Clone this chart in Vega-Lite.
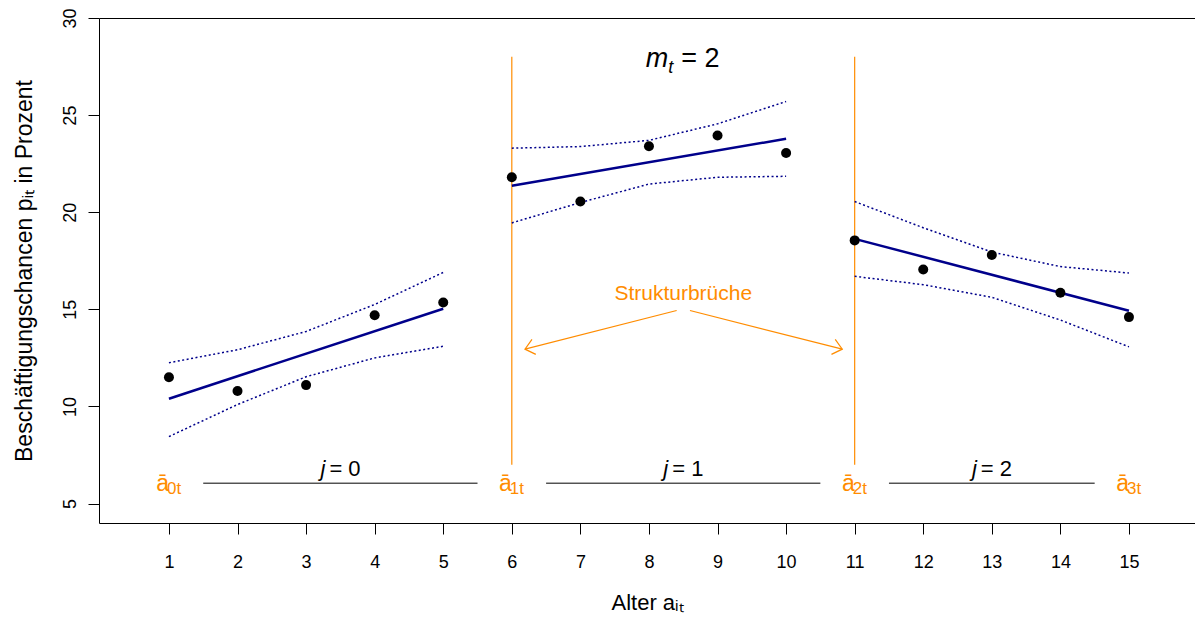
{
  "$schema": "https://vega.github.io/schema/vega-lite/v6.json",
  "width": 1096,
  "height": 505,
  "autosize": {"type": "none"},
  "padding": {"left": 99, "top": 18, "right": 0, "bottom": 94},
  "background": "white",
  "config": {"view": {"stroke": null}, "font": "Liberation Sans"},
  "resolve": {"axis": {"x": "independent", "y": "independent"}},
  "datasets": {
    "points": [
      {"x": 1, "y": 11.5, "g": "1"}, {"x": 2, "y": 10.8, "g": "1"}, {"x": 3, "y": 11.1, "g": "1"}, {"x": 4, "y": 14.7, "g": "1"}, {"x": 5, "y": 15.35, "g": "1"},
      {"x": 6, "y": 21.8, "g": "2"}, {"x": 7, "y": 20.55, "g": "2"}, {"x": 8, "y": 23.4, "g": "2"}, {"x": 9, "y": 23.95, "g": "2"}, {"x": 10, "y": 23.05, "g": "2"},
      {"x": 11, "y": 18.55, "g": "3"}, {"x": 12, "y": 17.05, "g": "3"}, {"x": 13, "y": 17.8, "g": "3"}, {"x": 14, "y": 15.85, "g": "3"}, {"x": 15, "y": 14.6, "g": "3"}
    ],
    "fit": [
      {"x": 1, "y": 10.4, "g": "1"}, {"x": 5, "y": 15.03, "g": "1"},
      {"x": 6, "y": 21.36, "g": "2"}, {"x": 10, "y": 23.78, "g": "2"},
      {"x": 11, "y": 18.63, "g": "3"}, {"x": 15, "y": 14.93, "g": "3"}
    ],
    "bands": [
      {"x": 1, "y": 12.25, "b": "u1"}, {"x": 2, "y": 12.92, "b": "u1"}, {"x": 3, "y": 13.86, "b": "u1"}, {"x": 4, "y": 15.25, "b": "u1"}, {"x": 5, "y": 16.9, "b": "u1"},
      {"x": 1, "y": 8.45, "b": "l1"}, {"x": 2, "y": 10.1, "b": "l1"}, {"x": 3, "y": 11.53, "b": "l1"}, {"x": 4, "y": 12.5, "b": "l1"}, {"x": 5, "y": 13.1, "b": "l1"},
      {"x": 6, "y": 23.3, "b": "u2"}, {"x": 7, "y": 23.38, "b": "u2"}, {"x": 8, "y": 23.7, "b": "u2"}, {"x": 9, "y": 24.55, "b": "u2"}, {"x": 10, "y": 25.7, "b": "u2"},
      {"x": 6, "y": 19.45, "b": "l2"}, {"x": 7, "y": 20.5, "b": "l2"}, {"x": 8, "y": 21.45, "b": "l2"}, {"x": 9, "y": 21.8, "b": "l2"}, {"x": 10, "y": 21.85, "b": "l2"},
      {"x": 11, "y": 20.55, "b": "u3"}, {"x": 12, "y": 19.2, "b": "u3"}, {"x": 13, "y": 17.95, "b": "u3"}, {"x": 14, "y": 17.2, "b": "u3"}, {"x": 15, "y": 16.87, "b": "u3"},
      {"x": 11, "y": 16.7, "b": "l3"}, {"x": 12, "y": 16.27, "b": "l3"}, {"x": 13, "y": 15.62, "b": "l3"}, {"x": 14, "y": 14.45, "b": "l3"}, {"x": 15, "y": 13.07, "b": "l3"}
    ],
    "breaks": [
      {"x": 6, "y": 7, "y2": 28},
      {"x": 11, "y": 7, "y2": 28}
    ],
    "segments": [
      {"x": 1.5, "x2": 5.5, "y": 6.05},
      {"x": 6.5, "x2": 10.5, "y": 6.05},
      {"x": 11.5, "x2": 14.5, "y": 6.05}
    ],
    "arrows": [
      {"arrow": "left", "x": 8.404, "y": 14.94, "x2": 6.192, "y2": 12.95},
      {"arrow": "right", "x": 8.598, "y": 14.94, "x2": 10.819, "y2": 12.95}
    ],
    "labels": [
      {"x": 8.5, "y": 15.46, "label": "Strukturbrüche", "role": "sb"},
      {"x": 8.5, "y": 27.48, "label": "m", "role": "m"},
      {"x": 8.5, "y": 27.48, "label": "t", "role": "msub"},
      {"x": 8.5, "y": 27.48, "label": "= 2", "role": "meq"},
      {"x": 3.5, "y": 6.43, "label": "j", "role": "j"},
      {"x": 8.5, "y": 6.43, "label": "j", "role": "j"},
      {"x": 13, "y": 6.43, "label": "j", "role": "j"},
      {"x": 3.5, "y": 6.43, "label": "= 0", "role": "jeq"},
      {"x": 8.5, "y": 6.43, "label": "= 1", "role": "jeq"},
      {"x": 13, "y": 6.43, "label": "= 2", "role": "jeq"},
      {"x": 1, "y": 5.67, "label": "ā", "role": "a"},
      {"x": 6, "y": 5.67, "label": "ā", "role": "a"},
      {"x": 11, "y": 5.67, "label": "ā", "role": "a"},
      {"x": 15, "y": 5.67, "label": "ā", "role": "a"},
      {"x": 1, "y": 5.67, "label": "0t", "role": "asub"},
      {"x": 6, "y": 5.67, "label": "1t", "role": "asub"},
      {"x": 11, "y": 5.67, "label": "2t", "role": "asub"},
      {"x": 15, "y": 5.67, "label": "3t", "role": "asub"}
    ]
  },
  "layer": [
    {
      "data": {"name": "breaks"},
      "mark": {"type": "rule", "color": "#FF8C00", "strokeWidth": 1.2},
      "encoding": {
        "x": {"field": "x", "type": "quantitative", "scale": {"domain": [-0.02, 15.963], "nice": false, "zero": false},
              "axis": {"orient": "top", "labels": false, "ticks": false, "grid": false, "domainColor": "black", "domainWidth": 1, "title": null}},
        "y": {"field": "y", "type": "quantitative", "scale": {"domain": [4, 30], "nice": false, "zero": false}, "axis": null},
        "y2": {"field": "y2"}
      }
    },
    {
      "data": {"name": "segments"},
      "mark": {"type": "rule", "color": "black", "strokeWidth": 1},
      "encoding": {
        "x": {"field": "x", "type": "quantitative", "scale": {"domain": [-0.02, 15.963], "nice": false, "zero": false}, "axis": null},
        "x2": {"field": "x2"},
        "y": {"field": "y", "type": "quantitative", "scale": {"domain": [4, 30], "nice": false, "zero": false}, "axis": null}
      }
    },
    {
      "data": {"name": "bands"},
      "mark": {"type": "line", "color": "#00008B", "strokeWidth": 1.5, "strokeDash": [2, 2.5]},
      "encoding": {
        "x": {"field": "x", "type": "quantitative", "scale": {"domain": [-0.02, 15.963], "nice": false, "zero": false}, "axis": null},
        "y": {"field": "y", "type": "quantitative", "scale": {"domain": [4, 30], "nice": false, "zero": false}, "axis": null},
        "detail": {"field": "b"}
      }
    },
    {
      "data": {"name": "fit"},
      "mark": {"type": "line", "color": "#00008B", "strokeWidth": 2.5},
      "encoding": {
        "x": {"field": "x", "type": "quantitative", "scale": {"domain": [-0.02, 15.963], "nice": false, "zero": false}, "axis": null},
        "y": {"field": "y", "type": "quantitative", "scale": {"domain": [4, 30], "nice": false, "zero": false}, "axis": null},
        "detail": {"field": "g"}
      }
    },
    {
      "data": {"name": "points"},
      "mark": {"type": "point", "filled": true, "color": "black", "size": 100, "opacity": 1},
      "encoding": {
        "x": {
          "field": "x", "type": "quantitative",
          "scale": {"domain": [-0.02, 15.963], "nice": false, "zero": false},
          "axis": {
            "values": [1, 2, 3, 4, 5, 6, 7, 8, 9, 10, 11, 12, 13, 14, 15],
            "title": "Alter aᵢₜ",
            "grid": false, "domainColor": "black", "domainWidth": 1, "tickColor": "black", "tickSize": 11, "tickWidth": 1,
            "labelFont": "Liberation Sans", "labelFontSize": 18, "labelColor": "black", "labelPadding": 19,
            "labelFlush": false, "labelOverlap": false,
            "titleFont": "Liberation Sans", "titleFontSize": 22, "titleFontWeight": "normal", "titleColor": "black", "titlePadding": 21
          }
        },
        "y": {
          "field": "y", "type": "quantitative",
          "scale": {"domain": [4, 30], "nice": false, "zero": false},
          "axis": {
            "values": [5, 10, 15, 20, 25, 30],
            "title": "Beschäftigungschancen pᵢₜ in Prozent",
            "grid": false, "domainColor": "black", "domainWidth": 1, "tickColor": "black", "tickSize": 11, "tickWidth": 1,
            "labelFont": "Liberation Sans", "labelFontSize": 18, "labelColor": "black", "labelPadding": 9,
            "labelAngle": -90, "labelAlign": "center", "labelBaseline": "bottom",
            "labelFlush": false, "labelOverlap": false,
            "titleFont": "Liberation Sans", "titleFontSize": 23, "titleFontWeight": "normal", "titleColor": "black", "titlePadding": 25
          }
        }
      }
    },
    {
      "data": {"name": "arrows"},
      "mark": {"type": "rule", "color": "#FF8C00", "strokeWidth": 1.2},
      "encoding": {
        "x": {"field": "x", "type": "quantitative", "scale": {"domain": [-0.02, 15.963], "nice": false, "zero": false}, "axis": null},
        "y": {"field": "y", "type": "quantitative", "scale": {"domain": [4, 30], "nice": false, "zero": false}, "axis": null},
        "x2": {"field": "x2"},
        "y2": {"field": "y2"}
      }
    },
    {
      "data": {"name": "arrows"},
      "transform": [{"filter": "datum.arrow == 'left'"}],
      "mark": {"type": "point", "shape": "M-0.766,-0.643L0,0L-0.766,0.643", "filled": false, "stroke": "#FF8C00", "strokeWidth": 1.2, "size": 576, "angle": 165.7, "opacity": 1},
      "encoding": {
        "x": {"field": "x2", "type": "quantitative", "scale": {"domain": [-0.02, 15.963], "nice": false, "zero": false}, "axis": null},
        "y": {"field": "y2", "type": "quantitative", "scale": {"domain": [4, 30], "nice": false, "zero": false}, "axis": null}
      }
    },
    {
      "data": {"name": "arrows"},
      "transform": [{"filter": "datum.arrow == 'right'"}],
      "mark": {"type": "point", "shape": "M-0.766,-0.643L0,0L-0.766,0.643", "filled": false, "stroke": "#FF8C00", "strokeWidth": 1.2, "size": 576, "angle": 14.2, "opacity": 1},
      "encoding": {
        "x": {"field": "x2", "type": "quantitative", "scale": {"domain": [-0.02, 15.963], "nice": false, "zero": false}, "axis": null},
        "y": {"field": "y2", "type": "quantitative", "scale": {"domain": [4, 30], "nice": false, "zero": false}, "axis": null}
      }
    },
    {
      "data": {"name": "labels"},
      "transform": [{"filter": "datum.role == 'sb'"}],
      "mark": {"type": "text", "font": "Liberation Sans", "fontSize": 21, "color": "#FF8C00", "align": "center", "baseline": "alphabetic"},
      "encoding": {
        "x": {"field": "x", "type": "quantitative", "scale": {"domain": [-0.02, 15.963], "nice": false, "zero": false}, "axis": null},
        "y": {"field": "y", "type": "quantitative", "scale": {"domain": [4, 30], "nice": false, "zero": false}, "axis": null},
        "text": {"field": "label"}
      }
    },
    {
      "data": {"name": "labels"},
      "transform": [{"filter": "datum.role == 'm'"}],
      "mark": {"type": "text", "font": "Liberation Sans", "fontSize": 27, "fontStyle": "italic", "color": "black", "align": "right", "baseline": "alphabetic", "dx": -15},
      "encoding": {
        "x": {"field": "x", "type": "quantitative", "scale": {"domain": [-0.02, 15.963], "nice": false, "zero": false}, "axis": null},
        "y": {"field": "y", "type": "quantitative", "scale": {"domain": [4, 30], "nice": false, "zero": false}, "axis": null},
        "text": {"field": "label"}
      }
    },
    {
      "data": {"name": "labels"},
      "transform": [{"filter": "datum.role == 'msub'"}],
      "mark": {"type": "text", "font": "Liberation Sans", "fontSize": 18, "fontStyle": "italic", "color": "black", "align": "left", "baseline": "alphabetic", "dx": -15, "dy": 6},
      "encoding": {
        "x": {"field": "x", "type": "quantitative", "scale": {"domain": [-0.02, 15.963], "nice": false, "zero": false}, "axis": null},
        "y": {"field": "y", "type": "quantitative", "scale": {"domain": [4, 30], "nice": false, "zero": false}, "axis": null},
        "text": {"field": "label"}
      }
    },
    {
      "data": {"name": "labels"},
      "transform": [{"filter": "datum.role == 'meq'"}],
      "mark": {"type": "text", "font": "Liberation Sans", "fontSize": 27, "color": "black", "align": "left", "baseline": "alphabetic", "dx": -2},
      "encoding": {
        "x": {"field": "x", "type": "quantitative", "scale": {"domain": [-0.02, 15.963], "nice": false, "zero": false}, "axis": null},
        "y": {"field": "y", "type": "quantitative", "scale": {"domain": [4, 30], "nice": false, "zero": false}, "axis": null},
        "text": {"field": "label"}
      }
    },
    {
      "data": {"name": "labels"},
      "transform": [{"filter": "datum.role == 'j'"}],
      "mark": {"type": "text", "font": "Liberation Sans", "fontSize": 22, "fontStyle": "italic", "color": "black", "align": "right", "baseline": "alphabetic", "dx": -15},
      "encoding": {
        "x": {"field": "x", "type": "quantitative", "scale": {"domain": [-0.02, 15.963], "nice": false, "zero": false}, "axis": null},
        "y": {"field": "y", "type": "quantitative", "scale": {"domain": [4, 30], "nice": false, "zero": false}, "axis": null},
        "text": {"field": "label"}
      }
    },
    {
      "data": {"name": "labels"},
      "transform": [{"filter": "datum.role == 'jeq'"}],
      "mark": {"type": "text", "font": "Liberation Sans", "fontSize": 22, "color": "black", "align": "left", "baseline": "alphabetic", "dx": -11},
      "encoding": {
        "x": {"field": "x", "type": "quantitative", "scale": {"domain": [-0.02, 15.963], "nice": false, "zero": false}, "axis": null},
        "y": {"field": "y", "type": "quantitative", "scale": {"domain": [4, 30], "nice": false, "zero": false}, "axis": null},
        "text": {"field": "label"}
      }
    },
    {
      "data": {"name": "labels"},
      "transform": [{"filter": "datum.role == 'a'"}],
      "mark": {"type": "text", "font": "Liberation Sans", "fontSize": 23, "color": "#FF8C00", "align": "right", "baseline": "alphabetic", "dx": 0},
      "encoding": {
        "x": {"field": "x", "type": "quantitative", "scale": {"domain": [-0.02, 15.963], "nice": false, "zero": false}, "axis": null},
        "y": {"field": "y", "type": "quantitative", "scale": {"domain": [4, 30], "nice": false, "zero": false}, "axis": null},
        "text": {"field": "label"}
      }
    },
    {
      "data": {"name": "labels"},
      "transform": [{"filter": "datum.role == 'asub'"}],
      "mark": {"type": "text", "font": "Liberation Sans", "fontSize": 17, "color": "#FF8C00", "align": "left", "baseline": "alphabetic", "dx": -2, "dy": 3.5},
      "encoding": {
        "x": {"field": "x", "type": "quantitative", "scale": {"domain": [-0.02, 15.963], "nice": false, "zero": false}, "axis": null},
        "y": {"field": "y", "type": "quantitative", "scale": {"domain": [4, 30], "nice": false, "zero": false}, "axis": null},
        "text": {"field": "label"}
      }
    }
  ]
}
